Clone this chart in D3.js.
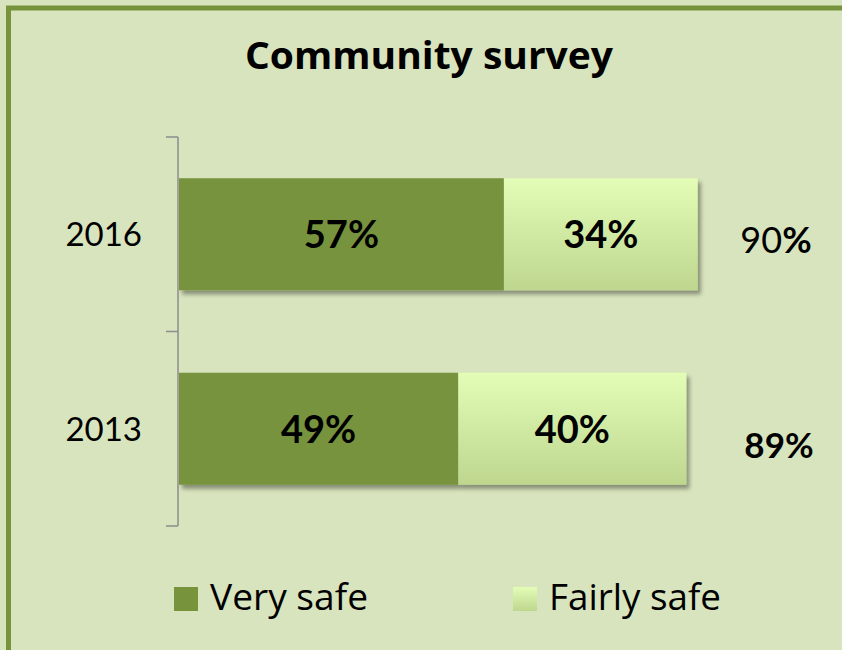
<!DOCTYPE html>
<html>
<head>
<meta charset="utf-8">
<script src="https://cdn.jsdelivr.net/npm/d3@7/dist/d3.min.js"></script>
<style>
  html, body { margin: 0; padding: 0; background: #d7e4bd; }
  svg { display: block; }
  text { font-family: Lato, "Open Sans", "Noto Sans", sans-serif; fill: #000; }
  .wide { font-family: "Open Sans", Lato, "Noto Sans", sans-serif; }
</style>
</head>
<body>
<svg id="chart" width="842" height="650"></svg>
<script>
// Survey results: share of respondents feeling safe, by year
const years = ["2016", "2013"];
const verySafe = [57, 49];
const fairlySafe = [34, 40];
const totals = [90, 89];
const seriesNames = ["Very safe", "Fairly safe"];

const W = 842, H = 650;
const svg = d3.select("#chart");

// gradient + shadow definitions
const defs = svg.append("defs");
const grad = defs.append("linearGradient")
  .attr("id", "fairlyGrad").attr("x1", 0).attr("y1", 0).attr("x2", 0).attr("y2", 1);
grad.append("stop").attr("offset", "0%").attr("stop-color", "#e3fdb7");
grad.append("stop").attr("offset", "100%").attr("stop-color", "#bed68e");

const shadow = defs.append("filter").attr("id", "barShadow")
  .attr("x", "-5%").attr("y", "-20%").attr("width", "115%").attr("height", "150%");
shadow.append("feDropShadow")
  .attr("dx", 3).attr("dy", 4).attr("stdDeviation", 2.2)
  .attr("flood-color", "#000").attr("flood-opacity", 0.38);

// background panel with border running off the right and bottom edges
svg.append("rect").attr("x", 0).attr("y", 0).attr("width", W).attr("height", H)
  .attr("fill", "#d7e4bd");
svg.append("rect")
  .attr("x", 8.5).attr("y", 8).attr("width", W + 20).attr("height", H + 20)
  .attr("fill", "#d8e4bd").attr("stroke", "#77933c").attr("stroke-width", 5);

// title
svg.append("text")
  .attr("class", "wide")
  .attr("x", 429).attr("y", 69)
  .attr("text-anchor", "middle")
  .attr("font-size", 37).attr("font-weight", "bold")
  .attr("textLength", 368).attr("lengthAdjust", "spacingAndGlyphs")
  .text("Community survey");

// scales
const x = d3.scaleLinear().domain([0, 100]).range([179, 749]);
const y = d3.scaleBand().domain(years).range([137, 526])
  .paddingInner(0.424).paddingOuter(0.212);

const colors = { very: "#77933c", fairly: "url(#fairlyGrad)" };

const rows = years.map((yr, i) => ({
  year: yr, very: verySafe[i], fairly: fairlySafe[i], total: totals[i]
}));

// stacked bars
const rowG = svg.append("g").selectAll("g").data(rows).join("g")
  .attr("filter", "url(#barShadow)");

rowG.append("rect")
  .attr("x", x(0)).attr("y", d => y(d.year))
  .attr("width", d => x(d.very) - x(0)).attr("height", y.bandwidth())
  .attr("fill", colors.very);

rowG.append("rect")
  .attr("x", d => x(d.very)).attr("y", d => y(d.year))
  .attr("width", d => x(d.very + d.fairly) - x(d.very)).attr("height", y.bandwidth())
  .attr("fill", colors.fairly);

// segment value labels
const labG = svg.append("g");
rows.forEach(d => {
  const cy = y(d.year) + y.bandwidth() / 2;
  labG.append("text")
    .attr("x", (x(0) + x(d.very)) / 2).attr("y", cy + 14)
    .attr("text-anchor", "middle").attr("font-size", 38).attr("font-weight", "bold")
    .text(d.very + "%");
  labG.append("text")
    .attr("x", (x(d.very) + x(d.very + d.fairly)) / 2).attr("y", cy + 14)
    .attr("text-anchor", "middle").attr("font-size", 38).attr("font-weight", "bold")
    .text(d.fairly + "%");
});

// totals to the right of the bars
const totalX = x(100) + 27;
const t0 = labG.append("text")
  .attr("x", totalX).attr("y", y(rows[0].year) + y.bandwidth() / 2 + 19)
  .attr("text-anchor", "middle").attr("font-size", 36);
t0.append("tspan").text(rows[0].total);
t0.append("tspan").attr("font-weight", "bold").text("%");

labG.append("text")
  .attr("x", totalX + 3).attr("y", y(rows[1].year) + y.bandwidth() / 2 + 29)
  .attr("text-anchor", "middle").attr("font-size", 35).attr("font-weight", "bold")
  .text(rows[1].total + "%");

// category axis
const axisG = svg.append("g").attr("transform", `translate(${x(0) - 1},0)`);
axisG.call(d3.axisLeft(y).tickSize(0).tickPadding(36));
axisG.select(".domain").remove();
axisG.selectAll(".tick text")
  .attr("font-family", "Lato, 'Open Sans', sans-serif")
  .attr("font-size", 33).attr("fill", "#000").attr("dy", "0.36em");

const [r0, r1] = y.range();
const boundaries = [r0, r0 + y.step(), r1];
axisG.append("line")
  .attr("x1", 0).attr("x2", 0).attr("y1", r0).attr("y2", r1)
  .attr("stroke", "#8c8c8c").attr("stroke-width", 1.5);
axisG.selectAll("line.bnd").data(boundaries).join("line").attr("class", "bnd")
  .attr("x1", -12).attr("x2", 0).attr("y1", d => d).attr("y2", d => d)
  .attr("stroke", "#8c8c8c").attr("stroke-width", 1.5);

// legend
const legendX = [174, 513];
const legendW = [158, 172];
const legend = svg.append("g").selectAll("g").data(seriesNames).join("g")
  .attr("transform", (d, i) => `translate(${legendX[i]},587)`);
legend.append("rect").attr("width", 24).attr("height", 24)
  .attr("fill", (d, i) => i === 0 ? colors.very : colors.fairly);
legend.append("text").attr("class", "wide").attr("x", 36).attr("y", 23)
  .attr("font-size", 36)
  .attr("textLength", (d, i) => legendW[i]).attr("lengthAdjust", "spacingAndGlyphs")
  .text(d => d);
</script>
</body>
</html>
